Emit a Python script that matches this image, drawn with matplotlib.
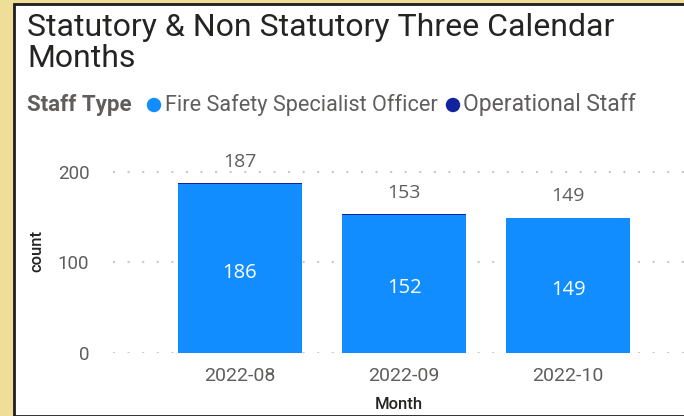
import matplotlib.pyplot as plt
from matplotlib.patches import Rectangle, Circle

# dados do grafico
meses = ["2022-08", "2022-09", "2022-10"]
fire_safety = [186, 152, 149]
operacional = [1, 1, 0]
y_ticks = [0, 100, 200]

cor_fire = "#118DFF"
cor_oper = "#12239E"
cor_texto = "#605E5C"

fig = plt.figure(figsize=(6.84, 4.16), dpi=100)
fig.patch.set_facecolor("#EFDE98")

# painel branco com borda escura
painel = Rectangle((14 / 684, 0), 1.0, 1 - 4 / 416, transform=fig.transFigure,
                   facecolor="white", edgecolor="#1E1E1E", linewidth=2, zorder=-5)
fig.patches.append(painel)

ax = fig.add_axes([113 / 684, 63 / 416, 1 - 113 / 684, (353 - 149) / 416])
ax.set_facecolor("none")

x = list(range(len(meses)))
totais = [a + b for a, b in zip(fire_safety, operacional)]

ax.bar(x, fire_safety, width=0.756, color=cor_fire, zorder=2)
ax.bar(x, operacional, width=0.756, bottom=fire_safety, color=cor_oper, zorder=2)

for i in x:
    ax.annotate(str(fire_safety[i]), (i, fire_safety[i] / 2), xytext=(0, -3),
                textcoords="offset points", ha="center", va="center",
                color="white", fontsize=14.5, family="Open Sans", zorder=3)
    ax.annotate(str(totais[i]), (i, totais[i]), xytext=(0, 9), textcoords="offset points",
                ha="center", va="bottom", color=cor_texto, fontsize=14, family="Open Sans")

ax.set_xlim(-0.774, 2.707)
ax.set_ylim(0, 225)
ax.set_yticks(y_ticks)
ax.set_xticks(x)
ax.set_xticklabels(meses)
for s in ax.spines.values():
    s.set_visible(False)
ax.tick_params(length=0, labelsize=14, labelcolor=cor_texto, pad=10)
ax.tick_params(axis="y", pad=17, labelsize=13.5)
for lbl in ax.get_xticklabels() + ax.get_yticklabels():
    lbl.set_family("Roboto")
ax.yaxis.grid(True, color="#C8C8C8", linestyle=(0, (1, 6)), linewidth=1.5, zorder=1)
ax.set_axisbelow(True)

ax.set_xlabel("Month", fontsize=12, color="#252423", family="Roboto",
              fontweight="medium", labelpad=9)
ax.set_ylabel("count", fontsize=12, color="#252423", family="Roboto",
              fontweight="medium", labelpad=10)

# titulo
fig.text(27 / 684, 1 - 13 / 416, "Statutory & Non Statutory Three Calendar\nMonths",
         ha="left", va="top", fontsize=23, color="#252423", family="Roboto",
         linespacing=1.08)

# legenda
yl = 1 - 105 / 416
fig.text(27 / 684, yl, "Staff Type", ha="left", va="center", fontsize=16,
         fontweight="bold", color=cor_texto, family="Roboto")
for cx, cor in [(154, cor_fire), (453, cor_oper)]:
    fig.patches.append(Circle((cx, 416 - 105), 6.5, transform=None, color=cor))
fig.text(165 / 684, yl, "Fire Safety Specialist Officer", ha="left", va="center",
         fontsize=15.6, color=cor_texto, family="Roboto")
fig.text(463 / 684, yl, "Operational Staff", ha="left", va="center",
         fontsize=16.5, color=cor_texto, family="Roboto")

fig.savefig("out.png", dpi=100, facecolor=fig.get_facecolor())
